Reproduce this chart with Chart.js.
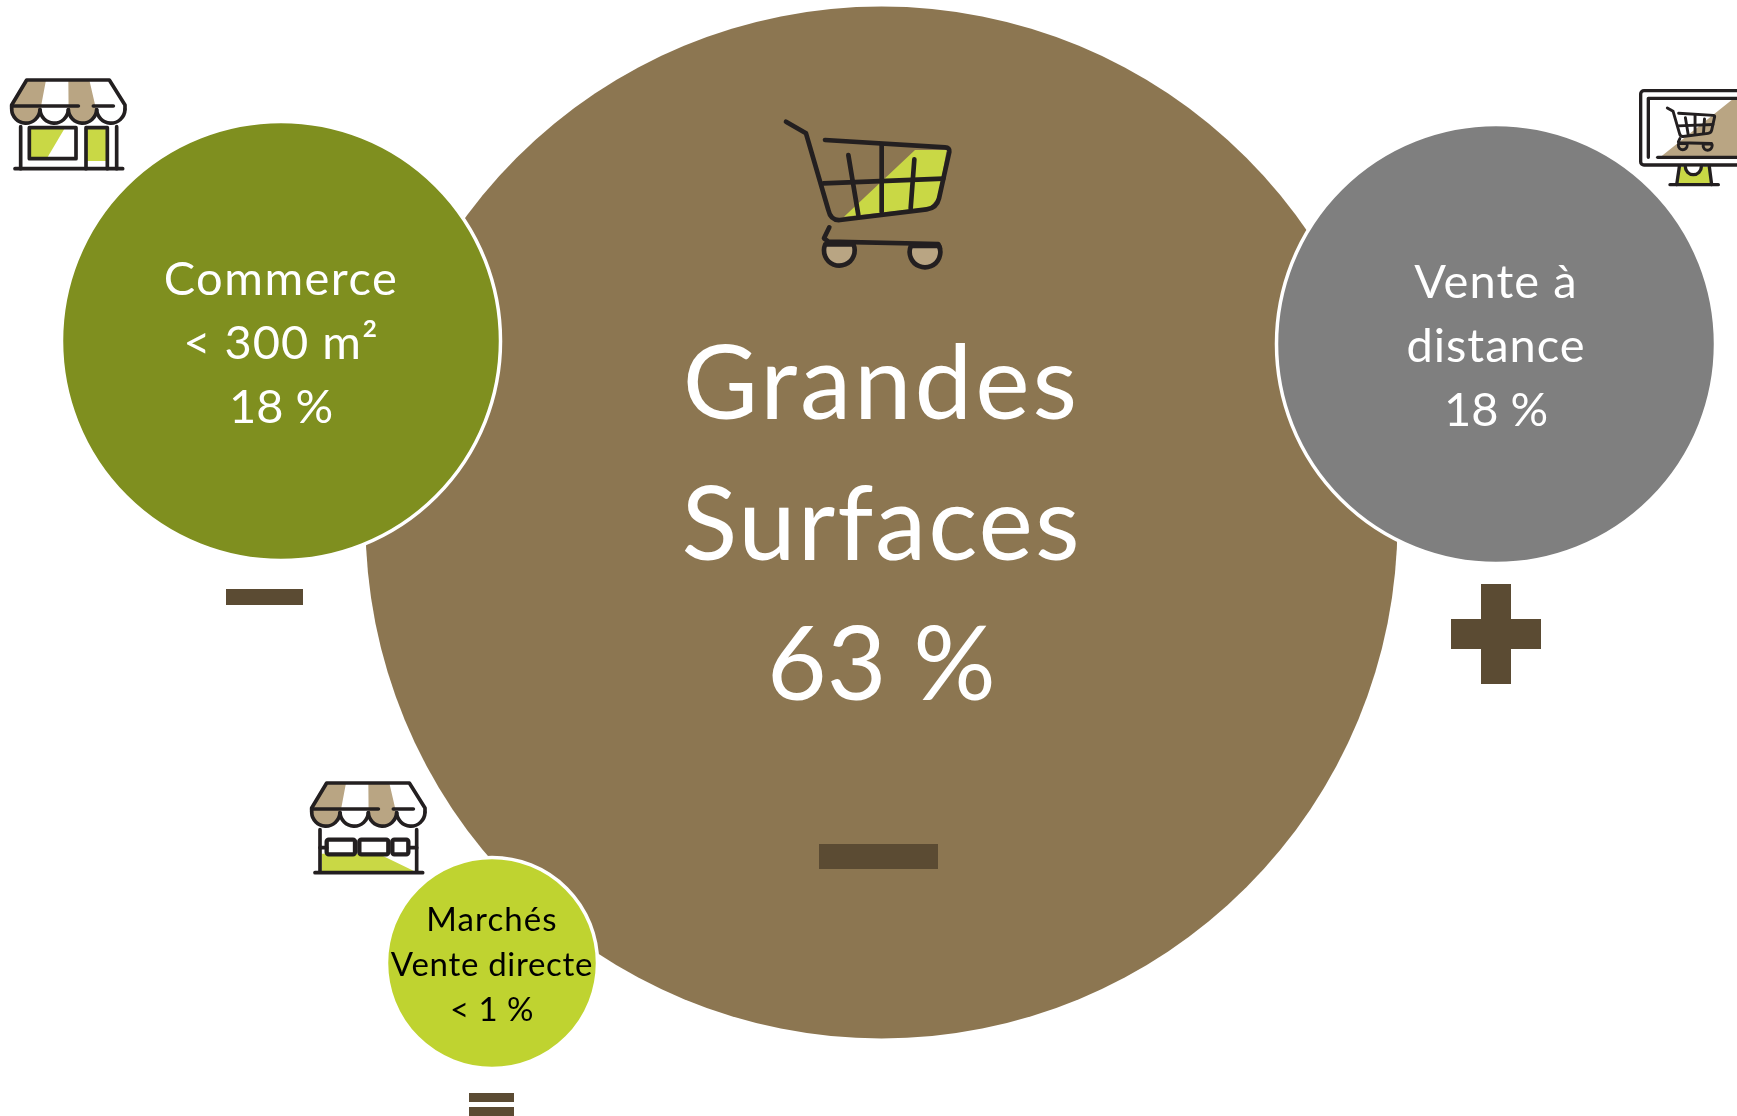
<!DOCTYPE html>
<html>
<head>
<meta charset="utf-8">
<title>Circuits de distribution</title>
<script src="https://cdn.jsdelivr.net/npm/chart.js@4"></script>
<style>
    html, body { margin: 0; padding: 0; background: #fff; overflow: hidden; }
    canvas { display: block; }
</style>
</head>
<body>
<canvas id="myChart" width="1737" height="1116"></canvas>
<script>
// one entry per circle, big one first so the others sit on top of it
const categories = ['Grandes Surfaces', 'Commerce < 300 m²', 'Vente à distance', 'Marchés Vente directe'];
const labelLines = [
    ['Grandes', 'Surfaces', '63 %'],
    ['Commerce', '< 300 m²', '18 %'],
    ['Vente à', 'distance', '18 %'],
    ['Marchés', 'Vente directe', '< 1 %']
];
const bubbleX = [881.5, 281, 1496, 492];
const bubbleY = [522.5, 341, 344, 963];
const bubbleR = [516, 219.5, 219.5, 105.5];
const bubbleColors = ['#8c7651', '#7f8f1f', '#7f7f7f', '#bfd330'];
const textColors = ['#ffffff', '#ffffff', '#ffffff', '#000000'];

const INK = '#231f20';
const TAN = '#b9a583';
const LIME = '#c9d845';
const MARK = '#5b4b33';

// text baselines, sizes and tracking for the labels inside each circle
const textBaselines = [[419, 560, 700], [295, 359, 423], [298, 362, 426], [931, 976, 1021]];
const textSizes = [103, 47, 47, 33];
const textTracking = [[3, 2, 0.2], [1.5, 1, 0], [1.1, 1, 0], [1.1, 0.7, 0.5]];

function poly(ctx, points, fill) {
    ctx.beginPath();
    points.forEach((p, i) => {
        if (i === 0) ctx.moveTo(p[0], p[1]);
        else ctx.lineTo(p[0], p[1]);
    });
    if (fill) {
        ctx.fillStyle = fill;
        ctx.closePath();
        ctx.fill();
    } else {
        ctx.stroke();
    }
}

// the icons are worked out on a 3x grid, so every one starts with this
function iconSpace(ctx, x, y, lineWidth) {
    ctx.translate(x, y);
    ctx.scale(1 / 3, 1 / 3);
    ctx.lineWidth = lineWidth;
    ctx.lineCap = 'round';
    ctx.lineJoin = 'round';
    ctx.strokeStyle = INK;
}

function drawAwning(ctx) {
    // tan stripes
    ctx.beginPath();
    ctx.moveTo(80, 60);
    ctx.lineTo(138, 60);
    ctx.lineTo(120, 155);
    ctx.arc(77.5, 147, 42.5, 0.2, Math.PI - 0.2);
    ctx.lineTo(35, 135);
    ctx.closePath();
    ctx.fillStyle = TAN;
    ctx.fill();
    ctx.beginPath();
    ctx.moveTo(205, 60);
    ctx.lineTo(268, 60);
    ctx.lineTo(290, 155);
    ctx.arc(247.5, 147, 42.5, 0.2, Math.PI - 0.2);
    ctx.closePath();
    ctx.fill();
    // outline and scallops
    poly(ctx, [[35, 147], [35, 135], [80, 60], [328, 60], [375, 135], [375, 147]]);
    [77.5, 162.5, 247.5, 332.5].forEach((cx) => {
        ctx.beginPath();
        ctx.arc(cx, 147, 42.5, 0.05, Math.PI - 0.05);
        ctx.stroke();
    });
    poly(ctx, [[35, 138], [235, 138]]);
    poly(ctx, [[280, 138], [340, 138]]);
}

function drawShop(ctx) {
    ctx.save();
    iconSpace(ctx, 0, 60, 11);
    poly(ctx, [[88, 203], [195, 203], [140, 296], [88, 296]], LIME);
    poly(ctx, [[258, 203], [322, 203], [322, 303], [258, 303]], LIME);
    drawAwning(ctx);
    poly(ctx, [[62, 200], [62, 326]]);
    poly(ctx, [[350, 200], [350, 326]]);
    poly(ctx, [[45, 326], [368, 326]]);
    poly(ctx, [[88, 203], [228, 203], [228, 296], [88, 296], [88, 203]]);
    poly(ctx, [[258, 326], [258, 203], [322, 203], [322, 326]]);
    ctx.restore();
}

function drawStall(ctx) {
    ctx.save();
    iconSpace(ctx, 300, 763, 11);
    poly(ctx, [[65, 272], [235, 272], [348, 327], [65, 327]], LIME);
    drawAwning(ctx);
    poly(ctx, [[60, 200], [60, 327]]);
    poly(ctx, [[350, 200], [350, 327]]);
    poly(ctx, [[45, 329], [368, 329]]);
    poly(ctx, [[60, 254], [80, 254]]);
    poly(ctx, [[330, 254], [350, 254]]);
    ctx.lineWidth = 13;
    [[80, 230, 165, 274], [178, 230, 265, 274], [277, 230, 325, 274]].forEach((b) => {
        ctx.beginPath();
        ctx.roundRect(b[0], b[1], b[2] - b[0], b[3] - b[1], 6);
        ctx.stroke();
    });
    ctx.restore();
}

function wheelPath(ctx, w) {
    ctx.beginPath();
    ctx.arc(w[0], w[1], 46, -0.4, Math.PI + 0.4);
    ctx.closePath();
}

function drawCart(ctx, withColors) {
    const wheels = [[208, 451], [465, 456]];
    if (withColors) {
        poly(ctx, [[222, 350], [435, 150], [530, 150], [505, 290], [480, 322]], LIME);
        ctx.fillStyle = TAN;
        wheels.forEach((w) => {
            wheelPath(ctx, w);
            ctx.fill();
        });
    }
    ctx.beginPath();
    ctx.moveTo(48, 65);
    ctx.lineTo(108, 100);
    ctx.lineTo(175, 330);
    ctx.quadraticCurveTo(182, 362, 210, 360);
    ctx.lineTo(470, 328);
    ctx.quadraticCurveTo(500, 324, 507, 295);
    ctx.lineTo(538, 155);
    ctx.quadraticCurveTo(540, 143, 525, 142);
    ctx.lineTo(165, 120);
    ctx.stroke();
    poly(ctx, [[335, 135], [335, 335]]);
    poly(ctx, [[235, 165], [265, 345]]);
    poly(ctx, [[433, 178], [422, 325]]);
    poly(ctx, [[160, 250], [520, 236]]);
    poly(ctx, [[178, 382], [162, 415], [175, 425], [505, 432], [510, 445]]);
    wheels.forEach((w) => {
        wheelPath(ctx, w);
        ctx.stroke();
    });
}

function drawMonitor(ctx) {
    ctx.save();
    iconSpace(ctx, 1620, 70, 10);
    poly(ctx, [[125, 258], [335, 90], [351, 90], [351, 258]], TAN);
    poly(ctx, [[178, 290], [268, 290], [275, 342], [170, 342]], LIME);
    ctx.beginPath();
    ctx.roundRect(62, 62, 340, 223, 10);
    ctx.stroke();
    poly(ctx, [[351, 85], [85, 85], [85, 262]]);
    poly(ctx, [[113, 262], [351, 262]]);
    poly(ctx, [[178, 290], [170, 344]]);
    poly(ctx, [[268, 290], [275, 344]]);
    poly(ctx, [[150, 344], [295, 344]]);
    ctx.beginPath();
    ctx.arc(220, 290, 24, 0, Math.PI);
    ctx.fillStyle = '#fff';
    ctx.fill();
    ctx.stroke();
    ctx.save();
    ctx.translate(128, 95);
    ctx.scale(0.29, 0.29);
    ctx.lineWidth = 30;
    drawCart(ctx, false);
    ctx.restore();
    ctx.restore();
}

// trend signs under the circles
function drawTrends(ctx) {
    ctx.fillStyle = MARK;
    ctx.fillRect(226, 589, 77, 16);
    ctx.fillRect(819, 844, 119, 25);
    ctx.fillRect(1451, 619, 90, 30);
    ctx.fillRect(1481, 584, 30, 100);
    ctx.fillRect(469, 1093, 45, 9);
    ctx.fillRect(469, 1107, 45, 9);
}

const labelsPlugin = {
    id: 'circleLabels',
    afterDatasetsDraw(chart) {
        const ctx = chart.ctx;
        const xScale = chart.scales.x;
        const yScale = chart.scales.y;

        ctx.save();
        ctx.textAlign = 'center';
        ctx.textBaseline = 'alphabetic';
        labelLines.forEach((lines, i) => {
            ctx.fillStyle = textColors[i];
            ctx.font = `${textSizes[i]}px Lato`;
            lines.forEach((line, j) => {
                ctx.letterSpacing = `${textTracking[i][j]}px`;
                ctx.fillText(line, xScale.getPixelForValue(bubbleX[i]), yScale.getPixelForValue(textBaselines[i][j]));
            });
        });
        ctx.restore();

        drawTrends(ctx);
        drawShop(ctx);
        drawStall(ctx);
        drawMonitor(ctx);

        ctx.save();
        iconSpace(ctx, 770, 100, 14);
        drawCart(ctx, true);
        ctx.restore();
    }
};

const data = {
    labels: categories,
    datasets: [{
        label: 'Part de marché',
        data: bubbleX.map((x, i) => ({ x: x, y: bubbleY[i], r: bubbleR[i] })),
        backgroundColor: bubbleColors,
        borderColor: '#ffffff',
        borderWidth: [0, 3.5, 3.5, 3.5],
        hoverRadius: 0,
        clip: false
    }]
};

const config = {
    type: 'bubble',
    data: data,
    options: {
        responsive: false,
        animation: false,
        events: [],
        layout: { padding: 0, autoPadding: false },
        plugins: {
            legend: { display: false },
            tooltip: { enabled: false }
        },
        scales: {
            x: { type: 'linear', display: false, min: 0, max: 1737 },
            y: { type: 'linear', display: false, min: 0, max: 1116, reverse: true }
        }
    },
    plugins: [labelsPlugin]
};

const myChart = new Chart(document.getElementById('myChart'), config);
</script>
</body>
</html>
